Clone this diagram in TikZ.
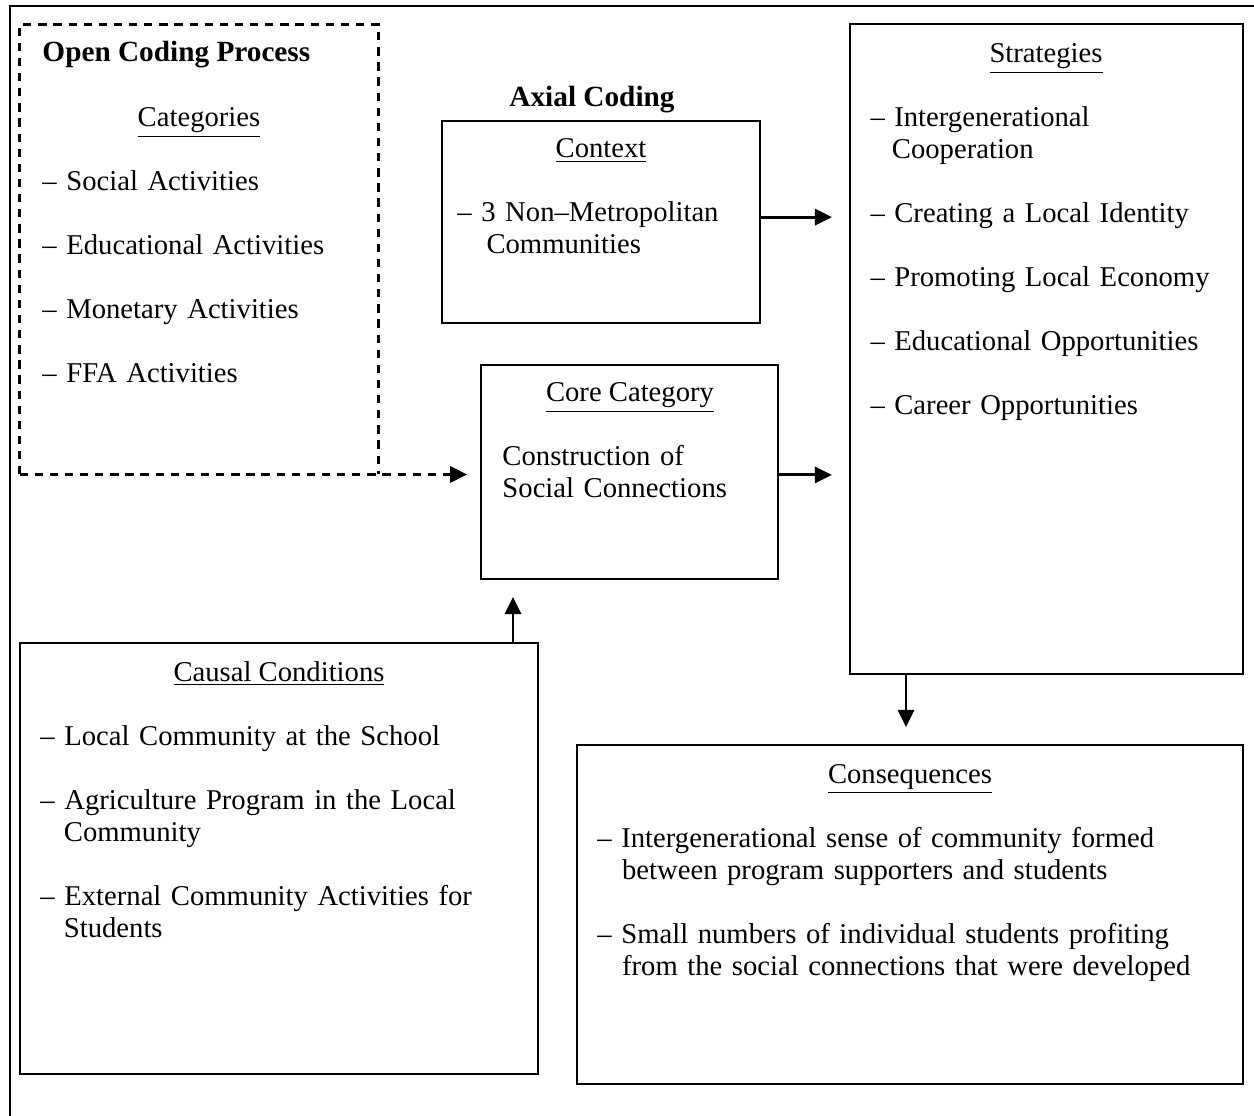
\documentclass[tikz,border=0pt]{standalone}
\usepackage{fontspec}
\setmainfont{Liberation Serif}
\usetikzlibrary{arrows.meta,fit,positioning}

\newcommand{\gap}{13.12pt}

\begin{document}
\begin{tikzpicture}[x=0.41pt,y=-0.41pt,>={Triangle[length=7pt,width=6.6pt]},
    font=\fontsize{11.75}{13.12}\selectfont]
    \tikzstyle{box}=[draw, line width=0.8pt, inner sep=0pt]
    \tikzstyle{txt}=[anchor=base west, inner sep=0pt, text width=260pt, align=left]
    \tikzstyle{head}=[anchor=base, inner sep=0pt]
    \tikzstyle{bold}=[inner sep=0pt, font=\fontsize{12}{13.12}\selectfont\bfseries]
    \tikzstyle{link}=[line width=1.2pt, ->, shorten >=7pt]
    \tikzstyle{dashline}=[line width=1.4pt, dash pattern=on 3.4pt off 2.8pt]

    \useasboundingbox (0,0) rectangle (1254,1116);
    \draw[line width=1.2pt] (10,1116) -- (10,6) -- (1254,6);

    % boxes
    \node[inner sep=0pt, fit={(20,25) (378,474)}] (open) {};
    \node[box, fit={(442,121) (760,323)}]   (context) {};
    \node[box, fit={(481,365) (778,579)}]   (core) {};
    \node[box, fit={(850,24) (1243,674)}]   (strat) {};
    \node[box, fit={(20,643) (538,1074)}]   (causal) {};
    \node[box, fit={(577,745) (1243,1084)}] (conseq) {};
    \draw[dashline] (open.south west) -- (open.north west) -- (open.north east) -- (open.south east);

    % open coding
    \node[bold, anchor=base west] (opentitle) at (42,62) {Open Coding Process};
    \node[head] (cathead) at (199,127) {\underline{Categories}};
    \node[txt] (catlist) at (42,191) {-- Social Activities\\[\gap]
      -- Educational Activities\\[\gap]
      -- Monetary Activities\\[\gap]
      -- FFA Activities};

    % axial coding
    \node[bold, anchor=base] (axial) at (592,107) {Axial Coding};
    \node[head] (conhead) at (601,158) {\underline{Context}};
    \node[txt] (conlist) at (457,222) {-- 3 Non--Metropolitan\\
      \hspace*{11.9pt}Communities};

    \node[head] (corehead) at (630,402) {\underline{Core Category}};
    \node[txt] (corelist) at (502,466) {Construction of\\
      Social Connections};

    \node[head] (strathead) at (1046,63) {\underline{Strategies}};
    \node[txt] (stratlist) at (870,127) {-- Intergenerational\\
      \hspace*{8.8pt}Cooperation\\[\gap]
      -- Creating a Local Identity\\[\gap]
      -- Promoting Local Economy\\[\gap]
      -- Educational Opportunities\\[\gap]
      -- Career Opportunities};

    \node[head] (caushead) at (279,681) {\underline{Causal Conditions}};
    \node[txt] (causlist) at (40,745) {-- Local Community at the School\\[\gap]
      -- Agriculture Program in the Local\\
      \hspace*{9.6pt}Community\\[\gap]
      -- External Community Activities for\\
      \hspace*{9.6pt}Students};

    \node[head] (conshead) at (910,783) {\underline{Consequences}};
    \node[txt] (conslist) at (597,847) {-- Intergenerational sense of community formed\\
      \hspace*{10.1pt}between program supporters and students\\[\gap]
      -- Small numbers of individual students profiting\\
      \hspace*{10.1pt}from the social connections that were developed};

    % connectors
    \draw[dashline, ->, shorten >=5.3pt] (open.south west) -- (open.south west -| core.west);
    \draw[link] ([yshift=2pt]context.east) -- ([yshift=2pt]context.east -| strat.west);
    \draw[link] ([yshift=-1.2pt]core.east) -- ([yshift=-1.2pt]core.east -| strat.west);
    \coordinate (upx) at (513,620);
    \draw[link] (causal.north -| upx) -- (core.south -| upx);
    \coordinate (downx) at (906,700);
    \draw[link] (strat.south -| downx) -- (conseq.north -| downx);
\end{tikzpicture}
\end{document}
